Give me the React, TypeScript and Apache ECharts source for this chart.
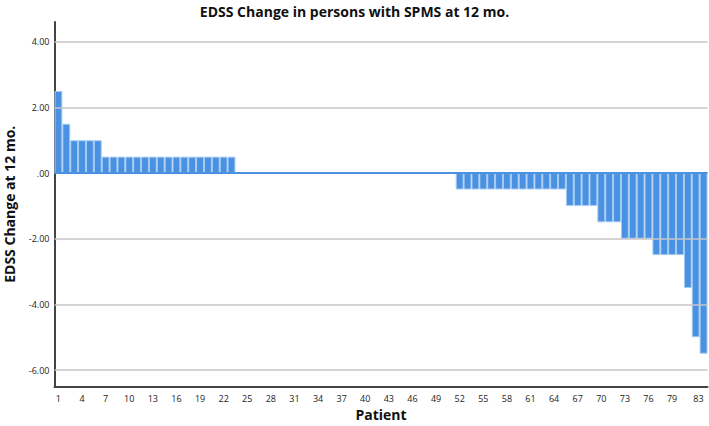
import React, { useEffect, useRef } from "react";
import * as echarts from "echarts";

const patients: string[] = Array.from({ length: 83 }, (_, i) => String(i + 1));

const edssChange: number[] = [
  2.5, 1.5,
  1, 1, 1, 1,
  0.5, 0.5, 0.5, 0.5, 0.5, 0.5, 0.5, 0.5, 0.5, 0.5, 0.5, 0.5, 0.5, 0.5, 0.5, 0.5, 0.5,
  0, 0, 0, 0, 0, 0, 0, 0, 0, 0, 0, 0, 0, 0, 0, 0, 0, 0, 0, 0, 0, 0, 0, 0, 0, 0, 0, 0,
  -0.5, -0.5, -0.5, -0.5, -0.5, -0.5, -0.5, -0.5, -0.5, -0.5, -0.5, -0.5, -0.5, -0.5,
  -1, -1, -1, -1,
  -1.5, -1.5, -1.5,
  -2, -2, -2, -2,
  -2.5, -2.5, -2.5, -2.5,
  -3.5, -5, -5.5,
];

const gridValues: number[] = [-6, -4, -2, 0, 2, 4];

const FONT = "'Open Sans', 'DejaVu Sans', sans-serif";

export default function App() {
  const ref = useRef<HTMLDivElement>(null);

  useEffect(() => {
    if (!ref.current) return;
    const chart = echarts.init(ref.current, null, { renderer: "svg" });
    chart.setOption({
      animation: false,
      backgroundColor: "#ffffff",
      title: {
        text: "EDSS Change in persons with SPMS at 12 mo.",
        left: "center",
        top: -1,
        textStyle: { fontFamily: FONT, fontSize: 14, fontWeight: "bold", color: "#111" },
      },
      grid: {
        left: 54.5,
        right: 1.5,
        top: 22,
        bottom: 39.5,
        containLabel: false,
        outerBoundsMode: "none",
      },
      xAxis: {
        type: "category",
        data: patients,
        name: "Patient",
        nameLocation: "middle",
        nameGap: 15,
        nameTextStyle: { fontFamily: FONT, fontSize: 14, fontWeight: "bold", color: "#111" },
        axisLine: { onZero: false, lineStyle: { color: "#444", width: 2 } },
        axisTick: { show: false },
        axisLabel: {
          interval: (i: number) => (i % 3 === 0 && i !== 81) || i === 82,
          fontFamily: FONT,
          fontSize: 9,
          color: "#222",
          margin: 7,
          alignMaxLabel: "right",
        },
        splitLine: { show: false },
      },
      yAxis: {
        type: "value",
        min: -6.5,
        max: 4.6,
        interval: 0.5,
        name: "EDSS Change at 12 mo.",
        nameLocation: "middle",
        nameGap: 38,
        nameTextStyle: { fontFamily: FONT, fontSize: 14, fontWeight: "bold", color: "#111" },
        axisLine: { show: true, lineStyle: { color: "#444", width: 2 } },
        axisTick: { show: false },
        splitLine: { show: false },
        axisLabel: {
          fontFamily: FONT,
          fontSize: 9,
          color: "#222",
          margin: 5,
          formatter: (v: number) => {
            if (Math.abs(v / 2 - Math.round(v / 2)) > 1e-9) return "";
            if (v > 4.5) return "";
            if (Math.abs(v) < 1e-9) return ".00";
            return v.toFixed(2);
          },
        },
      },
      series: [
        {
          type: "line",
          data: [],
          z: 1,
          silent: true,
          markLine: {
            silent: true,
            symbol: "none",
            label: { show: false },
            lineStyle: { color: "#c6c6c6", width: 1.5, type: "solid" },
            data: gridValues.map((v) => ({ yAxis: v })),
          },
        },
        {
          type: "bar",
          data: edssChange,
          z: 2,
          barCategoryGap: "0%",
          itemStyle: { color: "#4A91E2", borderColor: "#A3CBF4", borderWidth: 1 },
          markLine: {
            silent: true,
            symbol: "none",
            label: { show: false },
            lineStyle: { color: "#4A91E2", width: 2, type: "solid" },
            data: [{ yAxis: 0 }],
          },
        },
      ],
    });
    return () => chart.dispose();
  }, []);

  return (
    <div
      ref={ref}
      style={{ position: "fixed", left: 0, top: 0, width: 709, height: 426 }}
    />
  );
}
